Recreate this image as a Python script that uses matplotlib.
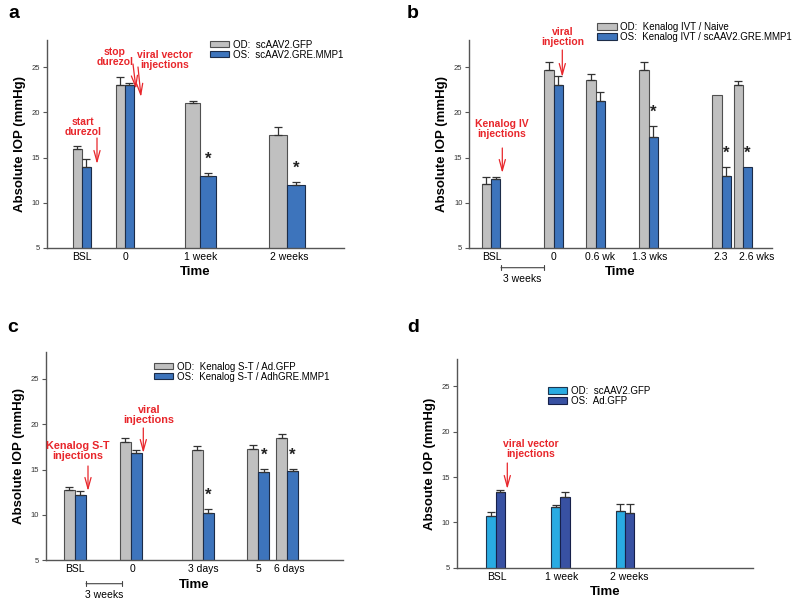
import matplotlib
matplotlib.use("Agg")
import matplotlib.pyplot as plt
import numpy as np

plt.rcParams['font.family'] = ['Liberation Sans', 'DejaVu Sans']

W, H = 800, 605

GRAY = '#c0c0c0'
BLUE = '#3d74bc'
CYAN = '#29abe2'
NAVY = '#3851a2'
RED = '#e8262b'
AXIS = '#555555'

# ---- panel a data ----
a_labels = ['BSL', '0', '1 week', '2 weeks']
a_od = [16.0, 23.0, 21.0, 17.5]
a_od_err = [0.3, 0.9, 0.3, 0.9]
a_os = [14.0, 23.0, 13.0, 12.0]
a_os_err = [0.8, 0.3, 0.3, 0.3]
a_sig = [False, False, True, True]

# ---- panel b data ----
b_labels = ['BSL', '0', '0.6 wk', '1.3 wks', '2.3', '2.6 wks']
b_od = [12.1, 24.7, 23.6, 24.7, 21.9, 23.0]
b_od_err = [0.7, 0.9, 0.6, 0.9, 0.0, 0.5]
b_os = [12.6, 23.0, 21.3, 17.3, 13.0, 14.0]
b_os_err = [0.3, 1.0, 0.9, 1.2, 1.0, 0.0]
b_sig = [False, False, False, True, True, True]

# ---- panel c data ----
c_labels = ['BSL', '0', '3 days', '5', '6 days']
c_od = [12.8, 18.0, 17.2, 17.3, 18.5]
c_od_err = [0.3, 0.5, 0.4, 0.4, 0.4]
c_os = [12.2, 16.8, 10.2, 14.7, 14.8]
c_os_err = [0.4, 0.4, 0.5, 0.4, 0.3]
c_sig = [False, False, True, True, True]

# ---- panel d data ----
d_labels = ['BSL', '1 week', '2 weeks']
d_od = [10.7, 11.7, 11.3]
d_od_err = [0.5, 0.2, 0.7]
d_os = [13.3, 12.8, 11.0]
d_os_err = [0.3, 0.5, 1.0]


def ff(x, y):
    """pixel position -> figure fraction"""
    return x / W, 1 - y / H


def make_axes(fig, left, top, right, bottom, ylabel):
    ax = fig.add_axes([left / W, 1 - bottom / H, (right - left) / W, (bottom - top) / H])
    ax.set_xlim(0, right - left)
    ax.set_ylim(5, 28)
    for s in ['top', 'right']:
        ax.spines[s].set_visible(False)
    for s in ['left', 'bottom']:
        ax.spines[s].set_color(AXIS)
        ax.spines[s].set_linewidth(1.0)
    ax.set_yticks([5, 10, 15, 20, 25])
    ax.tick_params(axis='y', labelsize=5.5, labelcolor='#333333', length=3,
                   width=0.8, color=AXIS, pad=2)
    ax.tick_params(axis='x', length=0, labelsize=7.5, pad=3)
    ax.set_ylabel(ylabel, fontsize=9.5, fontweight='bold', labelpad=4)
    ax.set_xlabel('Time', fontsize=9.5, fontweight='bold', labelpad=3)
    return ax


def draw_bars(ax, centers, widths, od, od_err, os_, os_err, c1, c2, e1, e2,
              lab1, lab2, sig=None):
    centers = np.asarray(centers, dtype=float)
    widths = np.broadcast_to(np.asarray(widths, dtype=float), centers.shape)
    x1 = centers - widths / 2
    x2 = centers + widths / 2
    ax.bar(x1, od, width=widths, color=c1, edgecolor=e1,
           linewidth=0.8, label=lab1, zorder=2)
    ax.bar(x2, os_, width=widths, color=c2, edgecolor=e2,
           linewidth=0.8, label=lab2, zorder=2)
    for xs, vals, errs in [(x1, od, od_err), (x2, os_, os_err)]:
        for x, v, e in zip(xs, vals, errs):
            if e > 0:
                ax.errorbar(x, v, yerr=[[0], [e]], fmt='none', ecolor='#333333',
                            elinewidth=0.9, capsize=2.6, capthick=0.9, zorder=3)
    if sig is not None:
        for x, v, e, s in zip(x2, os_, os_err, sig):
            if s:
                ax.text(x, v + e + 1.5, '*', ha='center', va='center',
                        fontsize=12, fontweight='bold', color='#222222')


def legend(ax, fig, x, y):
    ax.legend(loc='upper left', bbox_to_anchor=ff(x, y), bbox_transform=fig.transFigure,
              frameon=False, fontsize=7, handlelength=2.0, handleheight=0.62,
              handletextpad=0.35, labelspacing=0.0, borderpad=0, borderaxespad=0)


def note(fig, x, y, text, size=7.5):
    fig.text(*ff(x, y), text, ha='center', va='center', color=RED,
             fontweight='bold', fontsize=size, linespacing=1.1)


def arrow(ax, x0, y0, x1, y1):
    ax.annotate('', xy=ff(x1, y1), xytext=ff(x0, y0), xycoords='figure fraction',
                textcoords='figure fraction', annotation_clip=False,
                arrowprops=dict(arrowstyle='->,head_length=0.8,head_width=0.22',
                                color=RED, lw=0.9, shrinkA=0, shrinkB=0))


def scale_bar(ax, x0, x1, y, text):
    ax.annotate('', xy=ff(x1, y), xytext=ff(x0, y), xycoords='figure fraction',
                textcoords='figure fraction', annotation_clip=False,
                arrowprops=dict(arrowstyle='|-|,widthA=0.2,widthB=0.2',
                                color='#444444', lw=0.8, shrinkA=0, shrinkB=0))
    ax.figure.text(*ff((x0 + x1) / 2, y + 11), text, ha='center', va='center',
                   fontsize=7.5)


fig = plt.figure(figsize=(8, 6.05), dpi=100)

# ---------------- a ----------------
ax = make_axes(fig, 46.7, 40, 344, 248, 'Absolute IOP (mmHg)')
draw_bars(ax, [35, 78, 153.6, 240.6], [9, 9, 15.5, 18], a_od, a_od_err, a_os, a_os_err,
          GRAY, BLUE, '#505050', '#1c2c48',
          'OD:  scAAV2.GFP', 'OS:  scAAV2.GRE.MMP1', a_sig)
ax.set_xticks([35, 79, 154.3, 242.3], a_labels)
legend(ax, fig, 210, 39.5)
note(fig, 83, 127, 'start\ndurezol')
arrow(ax, 97, 138, 97, 164)
note(fig, 115, 57, 'stop\ndurezol')
arrow(ax, 133, 64, 136, 89)
note(fig, 165, 60, 'viral vector\ninjections')
arrow(ax, 138, 67, 141, 97)
fig.text(*ff(14, 13), 'a', fontsize=14, fontweight='bold', ha='center', va='center')

# ---------------- b ----------------
ax = make_axes(fig, 469.3, 40, 771.7, 248, 'Absolute IOP (mmHg)')
draw_bars(ax, [21.7, 84.4, 126.4, 179.4, 252.4, 273.7], 9.3, b_od, b_od_err, b_os, b_os_err,
          GRAY, BLUE, '#505050', '#1c2c48',
          'OD:  Kenalog IVT / Naive', 'OS:  Kenalog IVT / scAAV2.GRE.MMP1', b_sig)
ax.set_xticks([22.4, 84.4, 130.7, 180, 251.4, 287.4], b_labels)
legend(ax, fig, 597.3, 22)
note(fig, 501.7, 129, 'Kenalog IV\ninjections')
arrow(ax, 502.3, 148, 502.3, 173)
note(fig, 563, 37, 'viral\ninjection')
arrow(ax, 562.3, 50, 562.3, 77)
scale_bar(ax, 501, 544.3, 267.7, '3 weeks')
fig.text(*ff(413, 13), 'b', fontsize=14, fontweight='bold', ha='center', va='center')

# ---------------- c ----------------
ax = make_axes(fig, 46, 351.7, 343.3, 560.3, 'Absolute IOP (mmHg)')
draw_bars(ax, [28.7, 84.7, 156.7, 212.3, 241], 11, c_od, c_od_err, c_os, c_os_err,
          GRAY, BLUE, '#505050', '#1c2c48',
          'OD:  Kenalog S-T / Ad.GFP', 'OS:  Kenalog S-T / AdhGRE.MMP1', c_sig)
ax.set_xticks([28.7, 86.7, 157.3, 212.3, 243.3], c_labels)
legend(ax, fig, 154, 361.5)
note(fig, 77.7, 451, 'Kenalog S-T\ninjections', size=7.8)
arrow(ax, 88, 466, 88, 491)
note(fig, 149, 415, 'viral\ninjections', size=7.8)
arrow(ax, 143.3, 428, 143.3, 453)
scale_bar(ax, 86, 121.7, 583.7, '3 weeks')
fig.text(*ff(13, 328), 'c', fontsize=14, fontweight='bold', ha='center', va='center')

# ---------------- d ----------------
ax = make_axes(fig, 456.7, 359.3, 753.3, 567.7, 'Absoute IOP (mmHg)')
draw_bars(ax, [39, 103.6, 168.3], 9.3, d_od, d_od_err, d_os, d_os_err,
          CYAN, NAVY, '#1d3550', '#16204a',
          'OD:  scAAV2.GFP', 'OS:  Ad.GFP')
ax.set_xticks([40, 104.6, 172.3], d_labels)
legend(ax, fig, 548, 386)
note(fig, 531, 449, 'viral vector\ninjections')
arrow(ax, 507.3, 463, 507.3, 489)
fig.text(*ff(413, 328), 'd', fontsize=14, fontweight='bold', ha='center', va='center')

fig.savefig('out.png', dpi=100)
